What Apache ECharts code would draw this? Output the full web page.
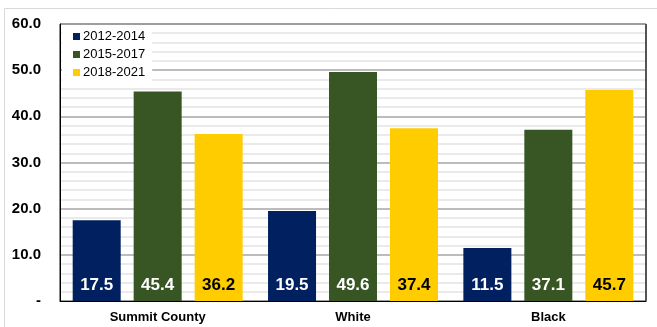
<!DOCTYPE html>
<html>
<head>
<meta charset="utf-8">
<script src="https://cdn.jsdelivr.net/npm/echarts@6/dist/echarts.min.js"></script>
<style>
html,body{margin:0;padding:0;background:#fff;}
#chart{width:657px;height:327px;}
</style>
</head>
<body>
<div id="chart"></div>
<script>
const categories = ['Summit County', 'White', 'Black'];
const seriesNames = ['2012-2014', '2015-2017', '2018-2021'];
const values2012_2014 = [17.5, 19.5, 11.5];
const values2015_2017 = [45.4, 49.6, 37.1];
const values2018_2021 = [36.2, 37.4, 45.7];
const yTicks = [0, 10, 20, 30, 40, 50, 60];

const colors = ['#002060', '#375623', '#FFCC00'];
const labelColors = ['#ffffff', '#ffffff', '#000000'];
const dataSets = [values2012_2014, values2015_2017, values2018_2021];

const chart = echarts.init(document.getElementById('chart'), null, {renderer: 'canvas'});
const font = 'Arial, "Liberation Sans", sans-serif';

chart.setOption({
  animation: false,
  textStyle: {fontFamily: font},
  graphic: [
    {type: 'rect', shape: {x: 4.5, y: 8.5, width: 700, height: 400}, style: {fill: 'none', stroke: '#d9d9d9', lineWidth: 1}, z: -10},
    {type: 'line', shape: {x1: 646, y1: 24, x2: 646, y2: 301}, style: {stroke: '#555', lineWidth: 2}, z: 10}
  ],
  grid: {left: 60, top: 24, right: 11, bottom: 26, show: true, borderColor: '#111', borderWidth: 1, backgroundColor: 'transparent'},
  legend: {
    orient: 'vertical',
    left: 62, top: 26,
    padding: [4, 7, 3, 11],
    itemGap: 5,
    itemWidth: 7, itemHeight: 7,
    icon: 'rect',
    backgroundColor: '#fff',
    textStyle: {fontSize: 13, color: '#000', fontFamily: font, padding: [0, 0, 0, -2]},
    data: seriesNames,
    z: 5
  },
  xAxis: {
    type: 'category',
    data: categories,
    axisTick: {show: false},
    axisLine: {show: true, lineStyle: {color: '#000', width: 1}},
    axisLabel: {fontSize: 13, fontWeight: 'bold', color: '#000', margin: 10, fontFamily: font}
  },
  yAxis: {
    type: 'value',
    min: yTicks[0], max: yTicks[yTicks.length - 1], interval: 10,
    axisLine: {show: true, lineStyle: {color: '#000'}},
    axisTick: {show: false},
    axisLabel: {
      fontSize: 15, fontWeight: 'bold', color: '#000', margin: 19, fontFamily: font,
      formatter: v => v === 0 ? '-' : v.toFixed(1)
    },
    splitLine: {show: true, lineStyle: {color: '#a6a6a6', width: 1.5}},
    minorTick: {show: false, splitNumber: 5},
    minorSplitLine: {show: true, lineStyle: {color: '#e3e3e3', width: 1.5}}
  },
  series: seriesNames.map((name, i) => ({
    name: name,
    type: 'bar',
    data: dataSets[i],
    barGap: '27%',
    barCategoryGap: '13%',
    itemStyle: {color: colors[i]},
    label: {
      show: true,
      position: 'insideBottom',
      distance: 7,
      fontSize: 17,
      fontWeight: 'bold',
      color: labelColors[i],
      fontFamily: font,
      formatter: p => p.value.toFixed(1)
    }
  }))
});
</script>
</body>
</html>
